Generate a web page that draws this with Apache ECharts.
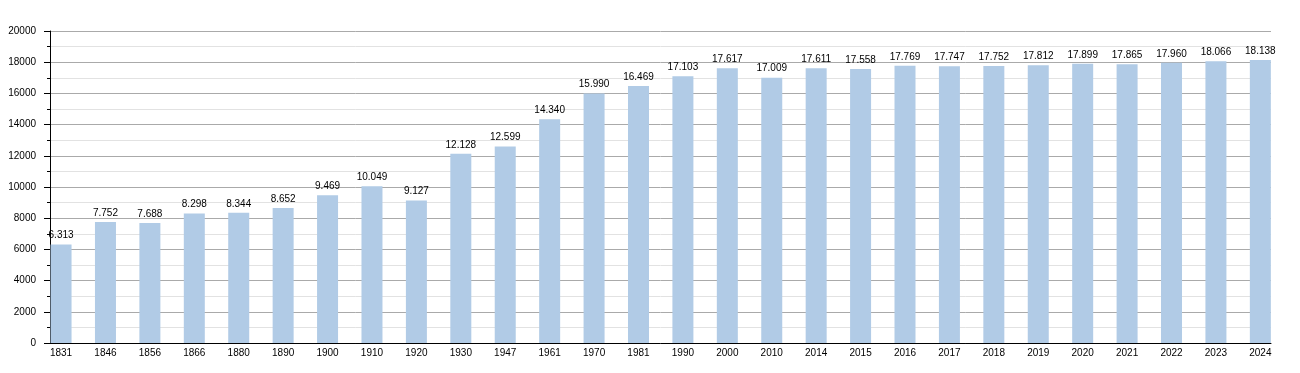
<!DOCTYPE html>
<html>
<head>
<meta charset="utf-8">
<script src="https://cdn.jsdelivr.net/npm/echarts@6/dist/echarts.min.js"></script>
<style>
html,body{margin:0;padding:0;background:#fff;}
#chart{width:1300px;height:373px;}
</style>
</head>
<body>
<div id="chart"></div>
<script>
const years = ['1831','1846','1856','1866','1880','1890','1900','1910','1920','1930','1947','1961','1970','1981','1990','2000','2010','2014','2015','2016','2017','2018','2019','2020','2021','2022','2023','2024'];
const population = [6313,7752,7688,8298,8344,8652,9469,10049,9127,12128,12599,14340,15990,16469,17103,17617,17009,17611,17558,17769,17747,17752,17812,17899,17865,17960,18066,18138];
const yMin = 0, yMax = 20000, yStep = 2000;

function fmt(v){ return String(v).replace(/\B(?=(\d{3})+(?!\d))/g, '.'); }

const FONT = 'Liberation Sans, Arial, sans-serif';
const chart = echarts.init(document.getElementById('chart'), null, {renderer:'canvas'});
chart.setOption({
  animation: false,
  backgroundColor: '#fff',
  textStyle: {fontFamily: FONT},
  grid: [
    {left: 50, top: 31, width: 1221, height: 312, containLabel: false},
    {left: 38.84, top: 31, width: 1243.72, height: 312, containLabel: false}
  ],
  xAxis: [
    {gridIndex: 0, type: 'category', data: years, boundaryGap: true,
     axisLine: {show: true, lineStyle: {color: '#000', width: 1}},
     axisTick: {show: false}, axisLabel: {show: false}, splitLine: {show: false}},
    {gridIndex: 1, type: 'category', data: years, boundaryGap: true,
     axisLine: {show: false}, axisTick: {show: false}, splitLine: {show: false},
     axisLabel: {show: true, interval: 0, margin: 5, fontSize: 10, color: '#000', fontFamily: FONT}}
  ],
  yAxis: [
    {gridIndex: 0, type: 'value', min: yMin, max: yMax, interval: yStep,
     axisLine: {show: true, lineStyle: {color: '#000', width: 1}},
     axisTick: {show: true, length: 6, lineStyle: {color: '#000'}},
     minorTick: {show: true, splitNumber: 2, length: 3, lineStyle: {color: '#000'}},
     splitLine: {show: true, lineStyle: {color: '#aaaaaa', width: 1}},
     minorSplitLine: {show: true, lineStyle: {color: '#e2e2e2', width: 1}},
     axisLabel: {show: true, margin: 14, fontSize: 10, color: '#000', fontFamily: FONT,
                 formatter: v => String(v)}},
    {gridIndex: 1, type: 'value', min: yMin, max: yMax, interval: yStep, show: false,
     splitLine: {show: false}}
  ],
  series: [{
    type: 'bar', xAxisIndex: 1, yAxisIndex: 1,
    data: population, barWidth: 21,
    itemStyle: {color: '#b1cbe6'},
    label: {show: true, position: 'top', distance: 4, fontSize: 10, color: '#000', fontFamily: FONT,
            formatter: p => fmt(p.value)}
  }]
});
</script>
</body>
</html>
